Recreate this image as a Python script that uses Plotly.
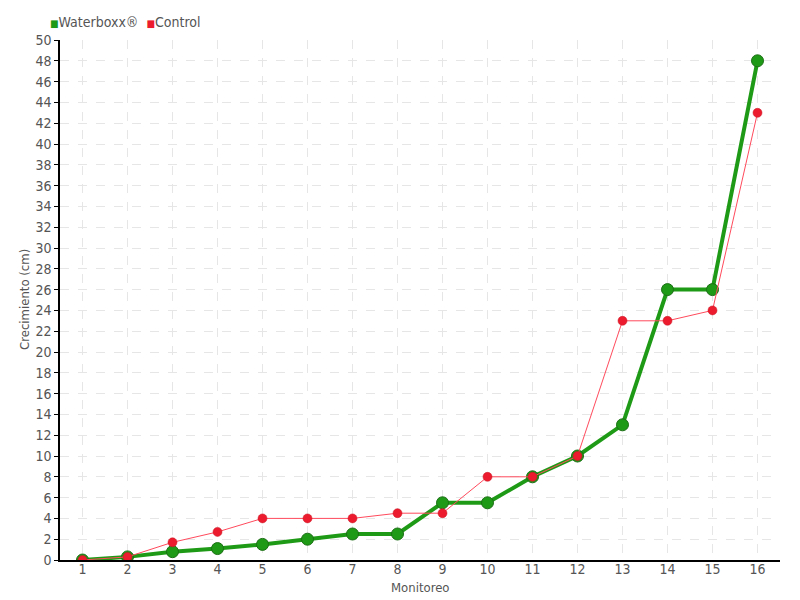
import plotly.graph_objects as go

monitoreo = list(range(1, 17))
waterboxx = [0, 0.3, 0.8, 1.1, 1.5, 2, 2.5, 2.5, 5.5, 5.5, 8, 10, 13, 26, 26, 48]
control = [0, 0.3, 1.7, 2.7, 4, 4, 4, 4.5, 4.5, 8, 8, 10, 23, 23, 24, 43]
y_ticks = list(range(0, 51, 2))

font_family = "DejaVu Sans Condensed, Liberation Sans Narrow, sans-serif"
green = "#1f9a17"
red = "#ec1c2e"

fig = go.Figure()

# faint shadow line under the green series
fig.add_trace(go.Scatter(
    x=monitoreo, y=waterboxx, mode="lines",
    line=dict(color="rgba(31,154,23,0.35)", width=2),
    showlegend=False, hoverinfo="skip"
))
fig.add_trace(go.Scatter(
    x=monitoreo, y=waterboxx, mode="lines+markers", name="Waterboxx®",
    line=dict(color=green, width=4),
    marker=dict(size=12, color=green, line=dict(color="#1b6e14", width=1)),
    showlegend=False
))
fig.add_trace(go.Scatter(
    x=monitoreo, y=control, mode="lines+markers", name="Control",
    line=dict(color="#ff4a5c", width=1),
    marker=dict(size=9, color=red, line=dict(color="#c8101f", width=0.5)),
    showlegend=False
))

# legend drawn as text with square swatches
sq = "<span style='color:{};font-size:10px'>■</span>"
fig.add_annotation(
    text=sq.format(green) + "Waterboxx®  " + sq.format(red) + "Control",
    xref="paper", yref="paper", x=-0.017, y=1.015, xanchor="left", yanchor="bottom",
    showarrow=False, font=dict(size=14, color="#555555")
)

# axis titles placed by hand, they sit close to the tick labels
fig.add_annotation(
    text="Monitoreo", xref="paper", yref="paper", x=0.5, y=-0.052,
    xanchor="center", yanchor="middle", showarrow=False, font=dict(size=13)
)
fig.add_annotation(
    text="Crecimiento (cm)", xref="paper", yref="paper", x=-0.05, y=0.5,
    xanchor="center", yanchor="middle", textangle=-90, showarrow=False,
    font=dict(size=13)
)

# page body has an 8px margin, so the figure is shrunk to keep the plot area in place
fig.update_layout(
    width=792, height=592,
    margin=dict(l=52, r=20, t=32, b=40, autoexpand=False),
    plot_bgcolor="white", paper_bgcolor="white",
    font=dict(family=font_family, size=13, color="#555555"),
    showlegend=False,
    xaxis=dict(
        range=[0.5, 16.5], tickvals=monitoreo, automargin=False,
        showgrid=True, gridcolor="#e6e6e6", griddash="dash", gridwidth=1,
        showline=True, linecolor="black", linewidth=1.5,
        ticks="", ticklabelstandoff=-5,
        zeroline=False, tickfont=dict(size=14)
    ),
    yaxis=dict(
        range=[0, 50], tickvals=y_ticks, automargin=False,
        showgrid=True, gridcolor="#e6e6e6", griddash="dash", gridwidth=1,
        showline=True, linecolor="black", linewidth=1.5,
        ticks="outside", ticklen=4, tickcolor="black",
        zeroline=False, tickfont=dict(size=14)
    ),
)

fig.write_html("out.html")
